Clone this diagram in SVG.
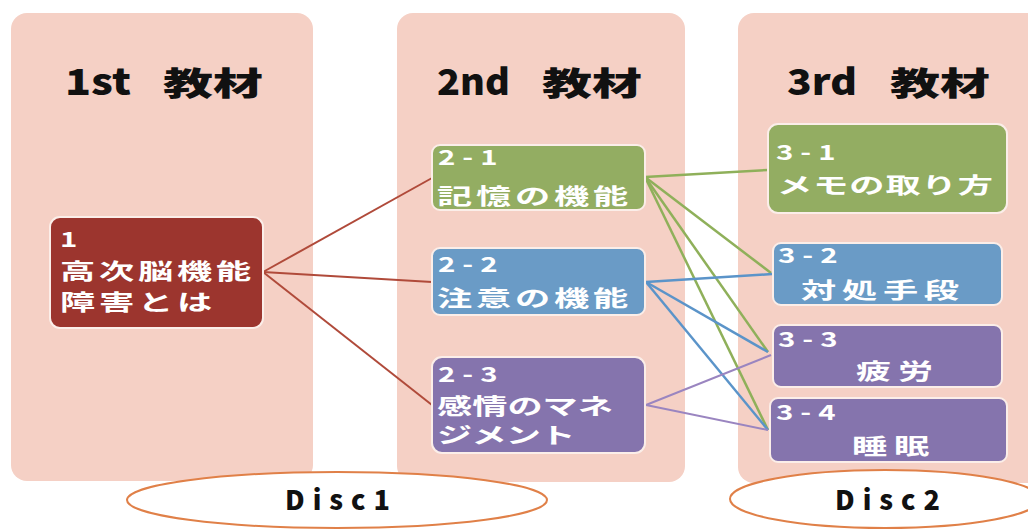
<svg xmlns="http://www.w3.org/2000/svg" width="1028" height="529" viewBox="0 0 1028 529">
<defs>
<style>
.panel{fill:#f5d0c5}
.node{stroke:#fbeee9;stroke-width:2}
.t{font-family:"Noto Sans CJK JP","Noto Sans",sans-serif;font-weight:bold}
.title{fill:#111;font-weight:900}
.lat{font-size:36px}
.kan{font-size:32px}
.lbl{font-size:22px;fill:#fff}
.num{font-size:21px;fill:#fff;letter-spacing:5px}
.disc{fill:#fff;stroke:#e08048;stroke-width:2}
.dtxt{font-size:27px;fill:#111;letter-spacing:8px;font-weight:900}
.r{stroke:#b04a3a;stroke-width:2;fill:none}
.g{stroke:#8fb05a;stroke-width:2.5;fill:none}
.b{stroke:#5b94c9;stroke-width:2.5;fill:none}
.p{stroke:#9a85c0;stroke-width:2;fill:none}
</style>
</defs>
<rect width="1028" height="529" fill="#fff"/>
<g id="panels">
<rect class="panel" x="11" y="13" width="302" height="468" rx="16"/>
<rect class="panel" x="397" y="13" width="288" height="469" rx="16"/>
<rect class="panel" x="738" y="13" width="304" height="470" rx="16"/>
<text class="t title" y="95"><tspan class="lat" x="65" textLength="66" lengthAdjust="spacingAndGlyphs">1st</tspan><tspan class="kan" x="163" textLength="100" lengthAdjust="spacingAndGlyphs">教材</tspan></text>
<text class="t title" y="95"><tspan class="lat" x="437" textLength="73" lengthAdjust="spacingAndGlyphs">2nd</tspan><tspan class="kan" x="542" textLength="100" lengthAdjust="spacingAndGlyphs">教材</tspan></text>
<text class="t title" y="95"><tspan class="lat" x="787" textLength="70" lengthAdjust="spacingAndGlyphs">3rd</tspan><tspan class="kan" x="890" textLength="100" lengthAdjust="spacingAndGlyphs">教材</tspan></text>
</g>
<g id="connectors">
<line class="r" x1="263" y1="272" x2="432" y2="178"/>
<line class="r" x1="263" y1="272" x2="432" y2="282"/>
<line class="r" x1="263" y1="272" x2="432" y2="405"/>
<line class="g" x1="645" y1="177" x2="768" y2="170"/>
<line class="g" x1="645" y1="177" x2="771" y2="273"/>
<line class="g" x1="645" y1="177" x2="768" y2="352"/>
<line class="g" x1="645" y1="177" x2="768" y2="430"/>
<line class="b" x1="646" y1="282" x2="772" y2="274"/>
<line class="b" x1="646" y1="282" x2="768" y2="352"/>
<line class="b" x1="646" y1="282" x2="768" y2="430"/>
<line class="p" x1="646" y1="405" x2="771" y2="355"/>
<line class="p" x1="646" y1="405" x2="768" y2="430"/>
</g>
<g id="n1">
<rect class="node" x="50" y="217" width="213" height="111" rx="10" fill="#9c352e"/>
<text class="t num" transform="translate(60,247) scale(1.4,1)">1</text>
<text class="t lbl" transform="translate(60,279) scale(1.6,1)" style="letter-spacing:2.4px">高次脳機能</text>
<text class="t lbl" transform="translate(60,310) scale(1.6,1)" style="letter-spacing:2.4px">障害とは</text>
</g>
<g id="n2-1">
<rect class="node" x="432" y="145" width="213" height="65" rx="8" fill="#93ad62"/>
<text class="t num" transform="translate(438,165) scale(1.4,1)">2-1</text>
<text class="t lbl" transform="translate(437,204) scale(1.6,1)" style="letter-spacing:2.4px">記憶の機能</text>
</g>
<g id="n2-2">
<rect class="node" x="432" y="248" width="213" height="67" rx="8" fill="#6a9bc6"/>
<text class="t num" transform="translate(438,272) scale(1.4,1)">2-2</text>
<text class="t lbl" transform="translate(437,306) scale(1.6,1)" style="letter-spacing:2.4px">注意の機能</text>
</g>
<g id="n2-3">
<rect class="node" x="432" y="357" width="213" height="96" rx="10" fill="#8574ad"/>
<text class="t num" transform="translate(438,382) scale(1.4,1)">2-3</text>
<text class="t lbl" transform="translate(437,414) scale(1.6,1)" style="letter-spacing:0px">感情のマネ</text>
<text class="t lbl" transform="translate(437,443) scale(1.6,1)" style="letter-spacing:-0.5px">ジメント</text>
</g>
<g id="n3-1">
<rect class="node" x="768" y="124" width="239" height="89" rx="10" fill="#93ad62"/>
<text class="t num" transform="translate(776,160) scale(1.4,1)">3-1</text>
<text class="t lbl" transform="translate(777,193) scale(1.6,1)" style="letter-spacing:0.6px">メモの取り方</text>
</g>
<g id="n3-2">
<rect class="node" x="773" y="243" width="229" height="62" rx="8" fill="#6a9bc6"/>
<text class="t num" transform="translate(778,263) scale(1.4,1)">3-2</text>
<text class="t lbl" transform="translate(801,298) scale(1.6,1)" style="letter-spacing:3.6px">対処手段</text>
</g>
<g id="n3-3">
<rect class="node" x="773" y="325" width="229" height="62" rx="8" fill="#8574ad"/>
<text class="t num" transform="translate(778,347) scale(1.4,1)">3-3</text>
<text class="t lbl" transform="translate(856,379) scale(1.6,1)" style="letter-spacing:4.3px">疲労</text>
</g>
<g id="n3-4">
<rect class="node" x="770" y="398" width="237" height="64" rx="8" fill="#8574ad"/>
<text class="t num" transform="translate(776,420) scale(1.4,1)">3-4</text>
<text class="t lbl" transform="translate(852,454) scale(1.6,1)" style="letter-spacing:4.3px">睡眠</text>
</g>
<g id="disc1">
<ellipse class="disc" cx="337" cy="500" rx="210" ry="28"/>
<text class="t dtxt" x="285" y="510">Disc1</text>
</g>
<g id="disc2">
<ellipse class="disc" cx="885" cy="499" rx="155" ry="29"/>
<text class="t dtxt" x="835" y="510">Disc2</text>
</g>
</svg>
